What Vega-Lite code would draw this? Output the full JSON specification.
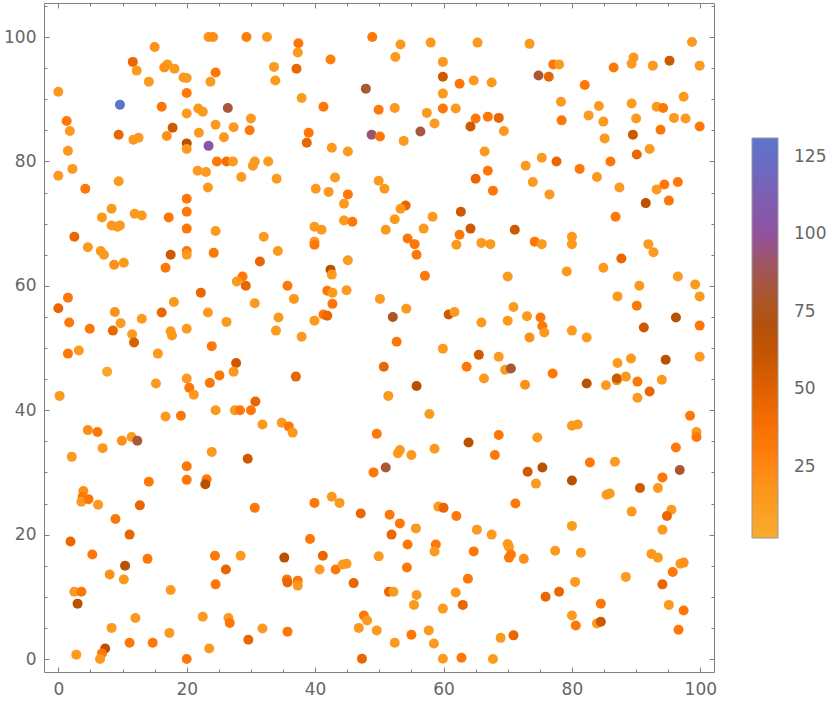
{
  "$schema": "https://vega.github.io/schema/vega-lite/v6.json",
  "width": 670,
  "height": 669,
  "autosize": {"type": "none"},
  "padding": {"left": 44, "top": 3, "right": 126, "bottom": 32},
  "background": "white",
  "config": {
    "view": {"stroke": null},
    "axis": {
      "domainColor": "#808080",
      "domainWidth": 1,
      "tickColor": "#808080",
      "tickWidth": 1,
      "labelColor": "#666666",
      "labelFont": "DejaVu Sans",
      "labelFontSize": 17,
      "grid": false,
      "title": null,
      "labelFlush": false,
      "labelOverlap": false
    }
  },
  "data": {
    "values": [
      {"x":23.4,"y":100,"v":18},{"x":24.1,"y":100,"v":22},{"x":29.3,"y":100,"v":30},{"x":32.5,"y":100,"v":14},{"x":15.0,"y":98.4,"v":20},{"x":11.6,"y":96.0,"v":45},{"x":12.2,"y":94.6,"v":14},{"x":17.0,"y":95.6,"v":14},{"x":16.5,"y":95.1,"v":20},{"x":18.1,"y":94.9,"v":14},{"x":14.1,"y":92.8,"v":14},{"x":19.5,"y":93.5,"v":14},{"x":20.0,"y":93.4,"v":14},{"x":24.5,"y":94.3,"v":32},{"x":23.7,"y":92.8,"v":14},{"x":0,"y":91.2,"v":14},{"x":20.0,"y":91.0,"v":32},{"x":9.6,"y":89.1,"v":130},{"x":16.1,"y":88.8,"v":32},{"x":26.4,"y":88.6,"v":82},{"x":21.8,"y":88.5,"v":14},{"x":22.5,"y":88.0,"v":14},{"x":20.0,"y":87.7,"v":14},{"x":1.3,"y":86.5,"v":32},{"x":1.8,"y":84.9,"v":14},{"x":30.0,"y":86.9,"v":14},{"x":24.5,"y":85.9,"v":14},{"x":27.3,"y":85.5,"v":14},{"x":29.8,"y":85.0,"v":32},{"x":17.8,"y":85.4,"v":57},{"x":21.9,"y":84.6,"v":14},{"x":16.9,"y":84.1,"v":20},{"x":25.8,"y":83.9,"v":14},{"x":9.4,"y":84.3,"v":45},{"x":11.7,"y":83.5,"v":14},{"x":12.5,"y":83.8,"v":14},{"x":20.0,"y":82.9,"v":66},{"x":20.0,"y":82.0,"v":14},{"x":23.4,"y":82.5,"v":104},{"x":1.5,"y":81.7,"v":14},{"x":24.7,"y":80.0,"v":32},{"x":26.2,"y":80.0,"v":38},{"x":27.2,"y":80.0,"v":14},{"x":30.3,"y":79.3,"v":14},{"x":30.6,"y":80.0,"v":14},{"x":32.7,"y":80.0,"v":14},{"x":2.2,"y":78.8,"v":14},{"x":0,"y":77.7,"v":14},{"x":21.7,"y":78.5,"v":14},{"x":23.0,"y":78.3,"v":14},{"x":9.4,"y":76.8,"v":14},{"x":28.5,"y":77.5,"v":14},{"x":23.3,"y":75.8,"v":14},{"x":4.2,"y":75.6,"v":32},{"x":20.0,"y":74.0,"v":32},{"x":8.3,"y":72.4,"v":14},{"x":20.0,"y":71.9,"v":32},{"x":6.8,"y":71.0,"v":14},{"x":11.9,"y":71.6,"v":14},{"x":13.0,"y":71.3,"v":14},{"x":17.2,"y":71.0,"v":32},{"x":8.3,"y":69.7,"v":14},{"x":9.6,"y":69.7,"v":14},{"x":9.2,"y":69.5,"v":14},{"x":20.0,"y":69.2,"v":32},{"x":24.5,"y":68.8,"v":14},{"x":2.5,"y":67.9,"v":45},{"x":32.0,"y":67.9,"v":14},
      {"x":48.9,"y":100,"v":32},{"x":37.4,"y":99.0,"v":32},{"x":37.3,"y":97.5,"v":14},{"x":53.3,"y":98.8,"v":14},{"x":58.0,"y":99.1,"v":14},{"x":65.3,"y":99.1,"v":14},{"x":52.5,"y":96.8,"v":14},{"x":33.6,"y":95.2,"v":14},{"x":33.8,"y":93.0,"v":14},{"x":37.1,"y":94.9,"v":45},{"x":42.4,"y":96.4,"v":28},{"x":59.9,"y":96.0,"v":14},{"x":59.9,"y":93.6,"v":57},{"x":62.5,"y":92.5,"v":32},{"x":64.7,"y":93.0,"v":14},{"x":67.5,"y":92.7,"v":14},{"x":47.9,"y":91.7,"v":82},{"x":59.9,"y":90.9,"v":14},{"x":37.9,"y":90.2,"v":14},{"x":41.3,"y":88.8,"v":32},{"x":49.9,"y":88.3,"v":32},{"x":52.4,"y":88.6,"v":14},{"x":57.4,"y":87.8,"v":14},{"x":59.9,"y":88.5,"v":32},{"x":61.9,"y":88.5,"v":14},{"x":65.0,"y":86.9,"v":32},{"x":66.9,"y":87.2,"v":32},{"x":58.6,"y":86.1,"v":14},{"x":64.2,"y":85.6,"v":57},{"x":39.0,"y":84.6,"v":32},{"x":38.7,"y":83.0,"v":45},{"x":48.8,"y":84.3,"v":92},{"x":50.1,"y":84.0,"v":32},{"x":56.4,"y":84.8,"v":85},{"x":53.8,"y":83.3,"v":14},{"x":42.6,"y":82.2,"v":14},{"x":45.1,"y":81.6,"v":14},{"x":66.4,"y":81.6,"v":14},{"x":34.0,"y":77.2,"v":14},{"x":66.9,"y":78.5,"v":32},{"x":65.0,"y":77.2,"v":45},{"x":67.7,"y":75.3,"v":32},{"x":43.1,"y":77.4,"v":14},{"x":49.9,"y":76.9,"v":14},{"x":50.8,"y":75.6,"v":14},{"x":40.1,"y":75.6,"v":14},{"x":42.1,"y":75.1,"v":14},{"x":45.1,"y":74.7,"v":32},{"x":44.5,"y":73.2,"v":14},{"x":54.1,"y":72.9,"v":45},{"x":53.3,"y":72.4,"v":14},{"x":58.3,"y":71.1,"v":14},{"x":52.4,"y":70.7,"v":14},{"x":62.7,"y":71.9,"v":57},{"x":64.2,"y":69.2,"v":57},{"x":44.5,"y":70.5,"v":14},{"x":45.8,"y":70.3,"v":32},{"x":39.9,"y":69.5,"v":14},{"x":41.0,"y":69.0,"v":14},{"x":51.0,"y":69.0,"v":14},{"x":56.9,"y":69.2,"v":14},{"x":62.5,"y":68.2,"v":32},{"x":54.4,"y":67.6,"v":32},{"x":39.9,"y":67.1,"v":14},{"x":39.9,"y":66.6,"v":32},{"x":55.5,"y":66.7,"v":32},{"x":62.0,"y":66.6,"v":14},{"x":65.9,"y":66.9,"v":14},{"x":67.3,"y":66.7,"v":14},
      {"x":73.4,"y":98.9,"v":14},{"x":98.7,"y":99.2,"v":14},{"x":77.1,"y":95.6,"v":32},{"x":78.0,"y":95.6,"v":14},{"x":74.8,"y":93.8,"v":82},{"x":76.4,"y":93.6,"v":45},{"x":89.6,"y":96.7,"v":14},{"x":89.3,"y":95.7,"v":14},{"x":86.5,"y":95.1,"v":32},{"x":92.6,"y":95.4,"v":14},{"x":95.2,"y":96.2,"v":57},{"x":99.9,"y":95.4,"v":14},{"x":82.0,"y":92.3,"v":32},{"x":78.3,"y":89.6,"v":14},{"x":97.4,"y":90.4,"v":14},{"x":84.2,"y":88.9,"v":14},{"x":89.3,"y":89.3,"v":14},{"x":93.2,"y":88.8,"v":14},{"x":94.2,"y":88.6,"v":32},{"x":68.6,"y":87.0,"v":45},{"x":82.6,"y":87.4,"v":14},{"x":84.9,"y":86.4,"v":14},{"x":90.0,"y":86.9,"v":14},{"x":95.9,"y":87.0,"v":14},{"x":97.7,"y":86.9,"v":14},{"x":78.4,"y":86.6,"v":32},{"x":69.4,"y":84.9,"v":14},{"x":93.8,"y":85.1,"v":32},{"x":99.9,"y":85.6,"v":32},{"x":89.5,"y":84.3,"v":57},{"x":85.1,"y":83.7,"v":14},{"x":92.1,"y":82.0,"v":14},{"x":90.1,"y":81.1,"v":45},{"x":72.8,"y":79.3,"v":14},{"x":75.3,"y":80.6,"v":14},{"x":77.6,"y":80.0,"v":45},{"x":81.2,"y":78.8,"v":32},{"x":86.0,"y":80.0,"v":32},{"x":83.9,"y":77.5,"v":14},{"x":73.9,"y":76.7,"v":14},{"x":76.5,"y":74.7,"v":14},{"x":87.4,"y":75.8,"v":14},{"x":93.2,"y":75.5,"v":14},{"x":94.4,"y":76.3,"v":32},{"x":96.5,"y":76.7,"v":32},{"x":95.1,"y":73.7,"v":32},{"x":91.5,"y":73.3,"v":66},{"x":86.8,"y":71.1,"v":32},{"x":71.1,"y":69.0,"v":57},{"x":80.0,"y":67.9,"v":14},{"x":74.2,"y":67.1,"v":32},{"x":75.3,"y":66.7,"v":14},{"x":80.0,"y":66.7,"v":14},{"x":91.9,"y":66.7,"v":14},
      {"x":4.6,"y":66.2,"v":14},{"x":6.6,"y":65.6,"v":14},{"x":7.1,"y":65.0,"v":14},{"x":8.7,"y":63.4,"v":20},{"x":10.2,"y":63.7,"v":14},{"x":17.5,"y":65.0,"v":57},{"x":20.0,"y":65.6,"v":32},{"x":20.0,"y":65.0,"v":14},{"x":24.2,"y":65.3,"v":32},{"x":31.4,"y":63.9,"v":45},{"x":16.7,"y":62.9,"v":32},{"x":28.7,"y":61.5,"v":32},{"x":27.8,"y":60.7,"v":14},{"x":29.2,"y":60.0,"v":45},{"x":22.2,"y":58.9,"v":45},{"x":1.5,"y":58.1,"v":32},{"x":0,"y":56.4,"v":45},{"x":18.0,"y":57.4,"v":14},{"x":30.6,"y":57.2,"v":14},{"x":8.8,"y":55.8,"v":20},{"x":16.1,"y":55.7,"v":45},{"x":23.3,"y":55.7,"v":14},{"x":1.7,"y":54.1,"v":32},{"x":9.7,"y":54.0,"v":14},{"x":13.0,"y":54.7,"v":14},{"x":26.2,"y":54.2,"v":14},{"x":4.9,"y":53.1,"v":32},{"x":8.5,"y":52.8,"v":45},{"x":17.5,"y":52.7,"v":14},{"x":17.7,"y":52.0,"v":14},{"x":20.0,"y":53.1,"v":14},{"x":11.5,"y":52.2,"v":14},{"x":11.8,"y":50.9,"v":52},{"x":23.9,"y":50.3,"v":32},{"x":1.5,"y":49.1,"v":32},{"x":3.2,"y":49.6,"v":14},{"x":15.5,"y":49.1,"v":14},{"x":27.7,"y":47.6,"v":57},{"x":27.3,"y":46.2,"v":14},{"x":7.6,"y":46.2,"v":6},{"x":20.0,"y":45.1,"v":14},{"x":25.1,"y":45.6,"v":32},{"x":15.2,"y":44.3,"v":14},{"x":20.4,"y":43.6,"v":32},{"x":21.1,"y":42.5,"v":14},{"x":23.6,"y":44.4,"v":32},{"x":0.2,"y":42.3,"v":14},{"x":30.7,"y":41.4,"v":45},{"x":24.5,"y":40.0,"v":14},{"x":27.5,"y":40.0,"v":14},{"x":28.3,"y":40.0,"v":32},{"x":30.0,"y":40.0,"v":32},{"x":31.8,"y":37.7,"v":14},{"x":16.7,"y":39.0,"v":14},{"x":19.1,"y":39.1,"v":32},{"x":4.6,"y":36.8,"v":20},{"x":6.1,"y":36.5,"v":32},{"x":9.9,"y":35.1,"v":20},{"x":11.4,"y":35.7,"v":14},{"x":12.3,"y":35.1,"v":82},{"x":6.9,"y":33.9,"v":14},{"x":2.1,"y":32.5,"v":14},{"x":23.9,"y":33.3,"v":14},{"x":29.5,"y":32.2,"v":57},
      {"x":34.2,"y":65.6,"v":14},{"x":55.8,"y":65.0,"v":32},{"x":45.1,"y":64.1,"v":14},{"x":42.4,"y":62.6,"v":66},{"x":42.6,"y":61.8,"v":14},{"x":57.1,"y":61.6,"v":32},{"x":35.7,"y":60.0,"v":32},{"x":41.9,"y":59.2,"v":32},{"x":42.7,"y":58.9,"v":14},{"x":44.9,"y":59.3,"v":14},{"x":36.7,"y":57.9,"v":14},{"x":42.7,"y":57.1,"v":32},{"x":50.1,"y":57.9,"v":14},{"x":54.2,"y":56.3,"v":14},{"x":41.3,"y":55.4,"v":32},{"x":41.9,"y":55.2,"v":45},{"x":52.1,"y":55.0,"v":78},{"x":60.8,"y":55.4,"v":57},{"x":61.7,"y":55.8,"v":14},{"x":65.9,"y":54.1,"v":14},{"x":34.3,"y":54.9,"v":14},{"x":33.9,"y":52.8,"v":14},{"x":39.9,"y":54.4,"v":14},{"x":37.9,"y":51.8,"v":14},{"x":52.7,"y":51.0,"v":32},{"x":59.9,"y":49.9,"v":14},{"x":65.5,"y":48.9,"v":57},{"x":50.7,"y":47.0,"v":45},{"x":63.6,"y":47.0,"v":32},{"x":66.3,"y":45.1,"v":14},{"x":37.0,"y":45.4,"v":45},{"x":55.8,"y":43.9,"v":66},{"x":51.4,"y":42.3,"v":14},{"x":57.8,"y":39.4,"v":14},{"x":34.8,"y":38.0,"v":14},{"x":35.9,"y":37.4,"v":32},{"x":36.5,"y":36.4,"v":14},{"x":49.6,"y":36.2,"v":32},{"x":63.9,"y":34.8,"v":66},{"x":53.2,"y":33.6,"v":14},{"x":52.9,"y":33.1,"v":14},{"x":55.0,"y":32.8,"v":14},{"x":58.6,"y":33.8,"v":14},
      {"x":92.7,"y":65.4,"v":14},{"x":87.7,"y":64.4,"v":45},{"x":70.0,"y":61.5,"v":14},{"x":79.2,"y":62.3,"v":14},{"x":84.9,"y":62.9,"v":14},{"x":90.5,"y":60.0,"v":14},{"x":96.5,"y":61.5,"v":14},{"x":99.2,"y":60.2,"v":14},{"x":99.9,"y":58.3,"v":14},{"x":87.1,"y":58.3,"v":14},{"x":90.1,"y":56.8,"v":32},{"x":70.9,"y":56.6,"v":14},{"x":70.0,"y":54.4,"v":14},{"x":73.0,"y":55.1,"v":14},{"x":75.1,"y":54.9,"v":32},{"x":75.4,"y":53.5,"v":32},{"x":75.7,"y":52.5,"v":14},{"x":73.4,"y":51.7,"v":20},{"x":80.0,"y":52.8,"v":14},{"x":82.3,"y":51.7,"v":14},{"x":96.2,"y":54.9,"v":66},{"x":91.2,"y":53.3,"v":57},{"x":99.9,"y":53.6,"v":32},{"x":68.6,"y":48.6,"v":14},{"x":69.6,"y":46.5,"v":14},{"x":70.5,"y":46.7,"v":82},{"x":77.0,"y":45.9,"v":32},{"x":72.7,"y":44.1,"v":20},{"x":82.3,"y":44.3,"v":66},{"x":85.3,"y":44.0,"v":14},{"x":87.0,"y":44.8,"v":14},{"x":87.0,"y":45.1,"v":57},{"x":88.4,"y":45.4,"v":14},{"x":87.1,"y":47.6,"v":14},{"x":89.2,"y":48.3,"v":14},{"x":90.2,"y":44.6,"v":32},{"x":90.2,"y":42.0,"v":14},{"x":92.1,"y":43.0,"v":45},{"x":94.0,"y":44.9,"v":14},{"x":94.6,"y":48.1,"v":66},{"x":99.9,"y":48.6,"v":14},{"x":98.4,"y":39.1,"v":32},{"x":99.4,"y":36.5,"v":14},{"x":99.4,"y":35.7,"v":32},{"x":80.0,"y":37.5,"v":14},{"x":80.9,"y":37.7,"v":14},{"x":68.6,"y":36.0,"v":32},{"x":74.6,"y":35.6,"v":14},{"x":96.2,"y":34.0,"v":32},{"x":68.0,"y":32.8,"v":32},{"x":82.8,"y":31.6,"v":32},{"x":86.7,"y":31.7,"v":14},
      {"x":20.0,"y":31.0,"v":32},{"x":20.0,"y":28.8,"v":32},{"x":23.1,"y":28.9,"v":32},{"x":22.9,"y":28.1,"v":66},{"x":14.1,"y":28.5,"v":32},{"x":3.9,"y":27.0,"v":20},{"x":3.8,"y":26.1,"v":32},{"x":3.6,"y":25.3,"v":14},{"x":4.7,"y":25.7,"v":32},{"x":6.2,"y":24.8,"v":14},{"x":12.7,"y":24.7,"v":45},{"x":30.6,"y":24.3,"v":32},{"x":8.9,"y":22.5,"v":32},{"x":11.1,"y":20.0,"v":45},{"x":1.9,"y":18.9,"v":45},{"x":5.3,"y":16.8,"v":32},{"x":13.9,"y":16.1,"v":32},{"x":24.4,"y":16.6,"v":32},{"x":28.4,"y":16.6,"v":14},{"x":10.4,"y":15.0,"v":66},{"x":26.1,"y":14.4,"v":45},{"x":8.0,"y":13.6,"v":20},{"x":10.2,"y":12.8,"v":14},{"x":24.5,"y":12.0,"v":32},{"x":17.5,"y":11.1,"v":14},{"x":2.5,"y":10.8,"v":14},{"x":3.6,"y":10.8,"v":32},{"x":3.0,"y":8.9,"v":66},{"x":12.0,"y":6.6,"v":14},{"x":22.5,"y":6.8,"v":14},{"x":26.5,"y":6.6,"v":14},{"x":26.7,"y":5.8,"v":32},{"x":31.8,"y":4.9,"v":14},{"x":8.3,"y":5.0,"v":14},{"x":17.3,"y":4.2,"v":14},{"x":11.1,"y":2.6,"v":32},{"x":14.7,"y":2.6,"v":32},{"x":29.6,"y":3.1,"v":45},{"x":23.5,"y":1.7,"v":14},{"x":2.8,"y":0.7,"v":14},{"x":7.3,"y":1.7,"v":66},{"x":6.8,"y":0.9,"v":32},{"x":6.5,"y":0.0,"v":14},{"x":20.0,"y":0.0,"v":32},
      {"x":51.0,"y":30.8,"v":82},{"x":49.1,"y":30.0,"v":32},{"x":39.9,"y":25.1,"v":32},{"x":42.6,"y":26.1,"v":14},{"x":43.8,"y":25.1,"v":14},{"x":47.1,"y":23.4,"v":45},{"x":51.6,"y":23.2,"v":32},{"x":53.2,"y":21.8,"v":32},{"x":55.7,"y":21.0,"v":14},{"x":51.9,"y":20.0,"v":45},{"x":59.2,"y":24.5,"v":14},{"x":60.0,"y":24.3,"v":45},{"x":62.0,"y":23.0,"v":32},{"x":65.2,"y":20.8,"v":14},{"x":67.5,"y":20.0,"v":14},{"x":39.2,"y":19.3,"v":32},{"x":41.2,"y":16.6,"v":45},{"x":35.2,"y":16.3,"v":66},{"x":54.4,"y":18.4,"v":32},{"x":58.8,"y":18.4,"v":32},{"x":58.6,"y":17.3,"v":14},{"x":64.7,"y":17.3,"v":32},{"x":49.9,"y":16.5,"v":14},{"x":54.3,"y":14.7,"v":32},{"x":40.7,"y":14.4,"v":14},{"x":43.2,"y":14.4,"v":32},{"x":44.3,"y":15.2,"v":14},{"x":44.9,"y":15.3,"v":14},{"x":35.6,"y":12.8,"v":32},{"x":35.7,"y":12.3,"v":45},{"x":37.3,"y":12.6,"v":32},{"x":37.3,"y":11.8,"v":14},{"x":46.0,"y":12.2,"v":45},{"x":63.8,"y":12.9,"v":32},{"x":51.5,"y":10.8,"v":45},{"x":52.2,"y":10.8,"v":14},{"x":55.8,"y":10.3,"v":14},{"x":61.9,"y":10.7,"v":14},{"x":63.0,"y":8.7,"v":45},{"x":55.4,"y":8.7,"v":14},{"x":59.9,"y":8.1,"v":14},{"x":47.6,"y":7.0,"v":32},{"x":48.1,"y":6.2,"v":14},{"x":46.8,"y":5.0,"v":14},{"x":35.7,"y":4.4,"v":32},{"x":49.6,"y":4.6,"v":14},{"x":55.0,"y":3.9,"v":32},{"x":57.7,"y":4.6,"v":14},{"x":52.4,"y":2.6,"v":14},{"x":58.5,"y":2.5,"v":14},{"x":47.3,"y":0.05,"v":45},{"x":59.9,"y":0.05,"v":14},{"x":62.8,"y":0.2,"v":32},{"x":67.7,"y":0.0,"v":14},
      {"x":73.1,"y":30.1,"v":57},{"x":75.4,"y":30.8,"v":66},{"x":80.0,"y":28.7,"v":66},{"x":74.4,"y":28.2,"v":14},{"x":96.8,"y":30.4,"v":82},{"x":94.1,"y":29.2,"v":32},{"x":93.4,"y":27.5,"v":14},{"x":90.6,"y":27.5,"v":57},{"x":85.4,"y":26.4,"v":14},{"x":85.9,"y":26.6,"v":14},{"x":71.2,"y":25.0,"v":32},{"x":89.3,"y":23.7,"v":14},{"x":95.5,"y":24.0,"v":14},{"x":94.8,"y":23.0,"v":45},{"x":94.1,"y":20.8,"v":14},{"x":80.0,"y":21.4,"v":14},{"x":70.0,"y":18.5,"v":14},{"x":70.2,"y":18.0,"v":14},{"x":70.5,"y":16.8,"v":32},{"x":70.2,"y":16.3,"v":32},{"x":72.5,"y":16.1,"v":20},{"x":77.4,"y":17.4,"v":14},{"x":81.4,"y":17.1,"v":14},{"x":92.4,"y":16.9,"v":14},{"x":93.4,"y":16.3,"v":14},{"x":95.7,"y":14.0,"v":32},{"x":96.9,"y":15.3,"v":14},{"x":97.4,"y":15.5,"v":20},{"x":88.4,"y":13.2,"v":14},{"x":80.5,"y":12.4,"v":14},{"x":94.1,"y":12.0,"v":45},{"x":75.9,"y":10.0,"v":45},{"x":78.0,"y":10.8,"v":45},{"x":84.5,"y":8.9,"v":32},{"x":95.1,"y":8.7,"v":14},{"x":97.4,"y":7.8,"v":32},{"x":80.0,"y":7.0,"v":14},{"x":80.6,"y":5.4,"v":32},{"x":83.9,"y":5.7,"v":14},{"x":84.5,"y":6.0,"v":57},{"x":96.6,"y":4.7,"v":32},{"x":68.9,"y":3.4,"v":14},{"x":70.9,"y":3.8,"v":45}
    ]
  },
  "layer": [
    {
      "mark": {"type": "circle", "size": 100, "opacity": 1},
      "encoding": {
        "x": {
          "field": "x", "type": "quantitative",
          "scale": {"domain": [-2.23, 102.13], "nice": false, "zero": false},
          "axis": {
            "orient": "bottom",
            "values": [0,5,10,15,20,25,30,35,40,45,50,55,60,65,70,75,80,85,90,95,100],
            "labelExpr": "datum.value % 20 === 0 ? datum.label : ''",
            "tickSize": {"condition": {"test": "datum.value % 20 === 0", "value": -5}, "value": -3},
            "labelPadding": 14
          }
        },
        "y": {
          "field": "y", "type": "quantitative",
          "scale": {"domain": [-2.09, 105.47], "nice": false, "zero": false},
          "axis": {
            "orient": "left",
            "values": [0,5,10,15,20,25,30,35,40,45,50,55,60,65,70,75,80,85,90,95,100,105],
            "labelExpr": "datum.value % 20 === 0 ? datum.label : ''",
            "tickSize": {"condition": {"test": "datum.value % 20 === 0", "value": -5}, "value": -3},
            "labelPadding": 13
          }
        },
        "color": {
          "field": "v", "type": "quantitative",
          "scale": {
            "domain": [2, 20, 35, 50, 67, 85, 100, 131],
            "range": ["#F9AC30", "#FD9118", "#FF7203", "#E06000", "#B65000", "#A6583F", "#9252A0", "#5B74CE"],
            "interpolate": "rgb"
          },
          "legend": {
            "orient": "none",
            "legendX": 708,
            "legendY": 135,
            "direction": "vertical",
            "gradientLength": 400,
            "gradientThickness": 26,
            "gradientStrokeColor": "#999999",
            "gradientStrokeWidth": 1,
            "values": [25, 50, 75, 100, 125],
            "labelFont": "DejaVu Sans",
            "labelFontSize": 17,
            "labelColor": "#666666",
            "labelOffset": 16,
            "labelOverlap": false,
            "title": null
          }
        }
      }
    },
    {
      "mark": {"type": "circle", "opacity": 0},
      "encoding": {
        "x": {
          "field": "x", "type": "quantitative",
          "axis": {
            "orient": "top",
            "values": [0,5,10,15,20,25,30,35,40,45,50,55,60,65,70,75,80,85,90,95,100],
            "labels": false,
            "tickSize": {"condition": {"test": "datum.value % 20 === 0", "value": -5}, "value": -3}
          }
        },
        "y": {
          "field": "y", "type": "quantitative",
          "axis": {
            "orient": "right",
            "values": [0,5,10,15,20,25,30,35,40,45,50,55,60,65,70,75,80,85,90,95,100,105],
            "labels": false,
            "tickSize": {"condition": {"test": "datum.value % 20 === 0", "value": -5}, "value": -3}
          }
        }
      }
    }
  ],
  "resolve": {"axis": {"x": "independent", "y": "independent"}}
}
